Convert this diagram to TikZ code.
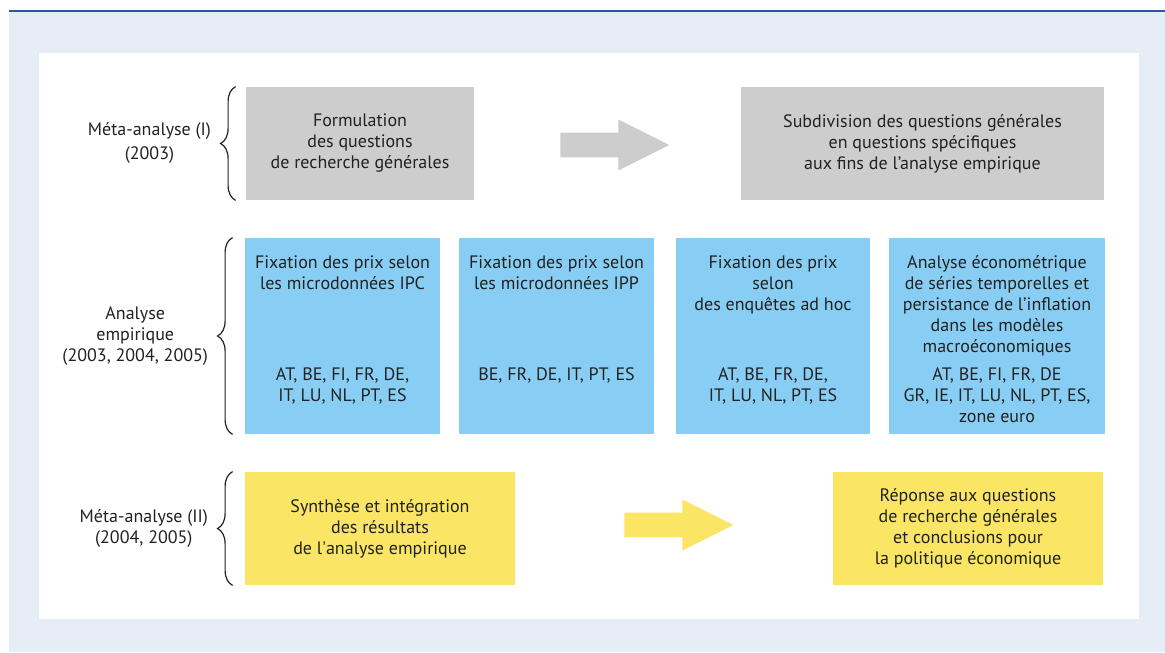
\documentclass[tikz,border=0pt]{standalone}
\usepackage{fontspec}
\setmainfont{PT Sans}
\usetikzlibrary{positioning,shapes.arrows,decorations.pathreplacing}

\definecolor{panelbg}{HTML}{E6EDF6}
\definecolor{topline}{HTML}{2F5597}
\definecolor{greyfill}{HTML}{CDCDCD}
\definecolor{bluefill}{HTML}{88CDF3}
\definecolor{yellowfill}{HTML}{FAE664}
\definecolor{txt}{HTML}{222222}

\begin{document}
\begin{tikzpicture}[x=0.5pt,y=-0.5pt,
  every node/.style={text=txt,font=\fontsize{9}{10.5}\selectfont,inner sep=0pt,align=center},
  greybox/.style={fill=greyfill,minimum height=56.5pt},
  bluebox/.style={fill=bluefill,minimum width=97.5pt,minimum height=98pt},
  yellowbox/.style={fill=yellowfill,minimum width=135pt,minimum height=56.5pt},
  bigarrow/.style={single arrow,anchor=tail,inner sep=6pt,minimum height=54.5pt,minimum width=25pt,
    single arrow head extend=6.5pt,single arrow tip angle=53},
  bracket/.style={decorate,decoration={brace,amplitude=7.5pt},line width=0.6pt,txt}]
\useasboundingbox (0,0) rectangle (1165,652);
% background
\fill[panelbg] (9,12) rectangle (1165,652);
\draw[topline,line width=1pt] (9,11)--(1165,11);
\fill[white] (39,53) rectangle (1139,619);

% row 1
\node[greybox,minimum width=114pt] (formul) at (360,143.5)
  {Formulation\\des questions\\de recherche générales};
\node[greybox,minimum width=181.5pt] (subdiv) at (922.5,143.5)
  {Subdivision des questions générales\\en questions spécifiques\\aux fins de l’analyse empirique};
\node[bigarrow,fill=greyfill] (garrow) at (560,145) {};

% row 2
\node[bluebox] (ipc) at (342.5,336) {};
\node[bluebox] (ipp) at (556.5,336) {};
\node[bluebox,minimum width=97pt] (enq) at (773,336) {};
\node[bluebox,minimum width=108pt] (econ) at (997,336) {};
\node[below=9pt of ipc.north] (ipc title) {Fixation des prix selon\\les microdonnées IPC};
\node[below=9pt of ipp.north] (ipp title) {Fixation des prix selon\\les microdonnées IPP};
\node[below=9pt of enq.north] (enq title) {Fixation des prix\\selon\\des enquêtes ad hoc};
\node[below=9pt of econ.north] (econ title) {Analyse économétrique\\de séries temporelles et\\persistance de l’inflation\\dans les modèles\\macroéconomiques};
\node[below=65pt of ipc.north] (ipc pays) {AT, BE, FI, FR, DE,\\IT, LU, NL, PT, ES};
\node[below=65pt of ipp.north] (ipp pays) {BE, FR, DE, IT, PT, ES};
\node[below=65pt of enq.north] (enq pays) {AT, BE, FR, DE,\\IT, LU, NL, PT, ES};
\node[below=65pt of econ.north] (econ pays) {AT, BE, FI, FR, DE\\GR, IE, IT, LU, NL, PT, ES,\\zone euro};

% row 3
\node[yellowbox] (synth) at (380,528.5)
  {Synthèse et intégration\\des résultats\\de l\textquotesingle analyse empirique};
\node[yellowbox] (reponse) at (968,528.5)
  {Réponse aux questions\\de recherche générales\\et conclusions pour\\la politique économique};
\node[bigarrow,fill=yellowfill] (yarrow) at (624,525) {};

% braces and labels
\draw[bracket] ([xshift=-5pt]formul.south west) -- ([xshift=-5pt]formul.north west)
  node[midway,left=12pt] (meta1) {Méta-analyse (I)\\[1.5pt](2003)};
\draw[bracket] ([xshift=-6pt]ipc.south west) -- ([xshift=-6pt]ipc.north west)
  node[midway,left=12pt] (empir) {Analyse\\empirique\\(2003, 2004, 2005)};
\draw[bracket] ([xshift=-6pt]synth.south west) -- ([xshift=-6pt]synth.north west)
  node[midway,left=12pt] (meta2) {Méta-analyse (II)\\(2004, 2005)};
\end{tikzpicture}
\end{document}
